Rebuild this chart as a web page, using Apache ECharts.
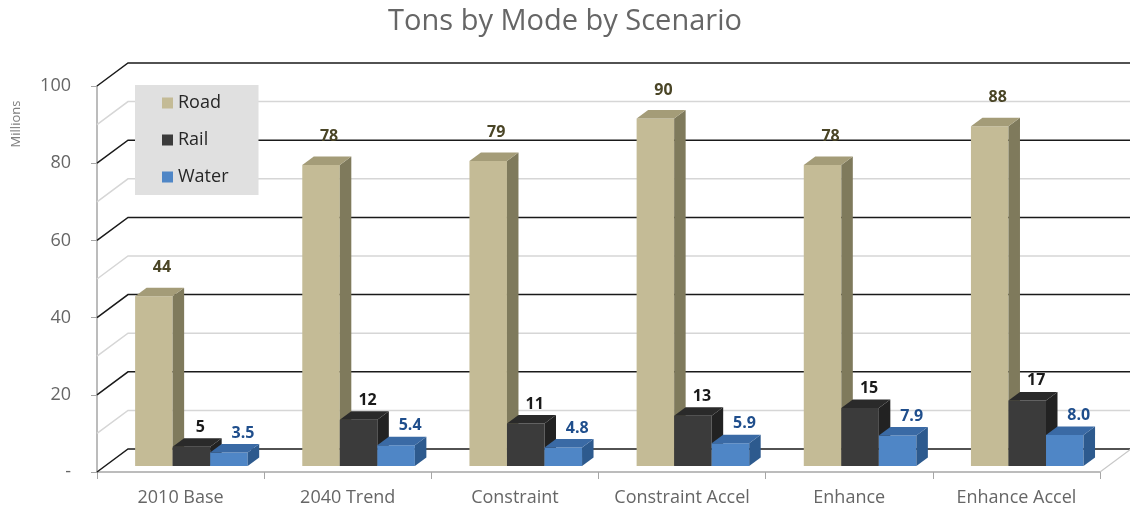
<!DOCTYPE html>
<html>
<head>
<meta charset="utf-8">
<script src="https://cdn.jsdelivr.net/npm/echarts@6/dist/echarts.min.js"></script>
<style>
  html, body { margin: 0; padding: 0; background: #fff; }
  #main { width: 1130px; height: 516px; }
</style>
</head>
<body>
<div id="main"></div>
<script>
var categories = ['2010 Base', '2040 Trend', 'Constraint', 'Constraint Accel', 'Enhance', 'Enhance Accel'];
var road = [44, 78, 79, 90, 78, 88];
var rail = [5, 12, 11, 13, 15, 17];
var water = [3.5, 5.4, 4.8, 5.9, 7.9, 8.0];
var wallTicks = [0, 10, 20, 30, 40, 50, 60, 70, 80, 90, 100];

var FONT = '"Open Sans", sans-serif';
// oblique 3d offsets (px)
var WALL_DX = 31, WALL_DY = -23;   // back wall
var PLANE_DX = 9, PLANE_DY = -6;   // bar front plane
var BAR_DX = 11.5, BAR_DY = -8.5;  // bar depth

function wallRender(params, api) {
  var cs = params.coordSys;
  var v = api.value(1);
  var y = api.coord([0, v])[1];
  var major = v % 20 === 0;
  var children = [{
    type: 'polyline',
    shape: { points: [[cs.x, y], [cs.x + WALL_DX, y + WALL_DY], [cs.x + cs.width + WALL_DX, y + WALL_DY]] },
    style: { stroke: major ? '#1a1a1a' : '#d6d6d6', lineWidth: 1.5, fill: null }
  }];
  if (v === 0) {
    children.push({
      type: 'line',
      shape: { x1: cs.x + cs.width, y1: y, x2: cs.x + cs.width + WALL_DX, y2: y + WALL_DY },
      style: { stroke: '#c8c8c8', lineWidth: 1.2 }
    });
  }
  return { type: 'group', children: children };
}

function barRender(idx, front, side, topC, labelColor, labelDx, labelDy, decimals) {
  return function (params, api) {
    var cat = api.value(0), val = api.value(1);
    var band = api.size([1, 0])[0];
    var base = api.coord([cat, 0]);
    var top = api.coord([cat, val]);
    var w = 0.2245 * band;
    var x0 = base[0] - band / 2 + 0.228 * band + idx * w;
    var yb = base[1] + PLANE_DY;
    var yt = top[1] + PLANE_DY;
    return {
      type: 'group',
      children: [
        { type: 'rect', shape: { x: x0, y: yt, width: w, height: yb - yt }, style: { fill: front } },
        { type: 'polygon', shape: { points: [[x0 + w, yt], [x0 + w + BAR_DX, yt + BAR_DY], [x0 + w + BAR_DX, yb + BAR_DY], [x0 + w, yb]] }, style: { fill: side } },
        { type: 'polygon', shape: { points: [[x0, yt], [x0 + w, yt], [x0 + w + BAR_DX, yt + BAR_DY], [x0 + BAR_DX, yt + BAR_DY]] }, style: { fill: topC } },
        { type: 'text', x: x0 + w / 2 + labelDx, y: yt + BAR_DY - labelDy,
          style: { text: val.toFixed(decimals), fill: labelColor, font: 'bold 16px ' + FONT, align: 'center', verticalAlign: 'middle' } }
      ]
    };
  };
}

function pairs(arr) { return arr.map(function (v, i) { return [i, v]; }); }

var myChart = echarts.init(document.getElementById('main'));

var option = {
  animation: false,
  title: {
    text: 'Tons by Mode by Scenario',
    left: 'center',
    top: 2,
    textStyle: { color: '#666666', fontSize: 29, fontWeight: 'normal', fontFamily: FONT }
  },
  legend: {
    data: ['Road', 'Rail', 'Water'],
    orient: 'vertical',
    left: 135,
    top: 85,
    backgroundColor: '#e0e0e0',
    padding: [9, 30, 9, 27],
    itemGap: 19,
    itemWidth: 11,
    itemHeight: 11,
    icon: 'rect',
    textStyle: { color: '#262626', fontSize: 18, fontFamily: FONT }
  },
  graphic: [{
    type: 'text', x: 16, y: 124, rotation: Math.PI / 2,
    style: { text: 'Millions', fill: '#7f7f7f', font: '13px ' + FONT, align: 'center', verticalAlign: 'middle' }
  }],
  grid: { left: 97, right: 30, top: 86, bottom: 44 },
  xAxis: {
    type: 'category',
    data: categories,
    axisLine: { lineStyle: { color: '#a6a6a6', width: 1.5 } },
    axisTick: { show: true, interval: 0, length: 7, lineStyle: { color: '#a6a6a6' } },
    axisLabel: { color: '#666666', fontSize: 18, margin: 17, interval: 0, fontFamily: FONT }
  },
  yAxis: {
    type: 'value',
    min: 0,
    max: 100,
    interval: 20,
    axisLine: { show: true, lineStyle: { color: '#a6a6a6', width: 1.5 } },
    axisTick: { show: true, length: 6, lineStyle: { color: '#a6a6a6' } },
    splitLine: { show: false },
    axisLabel: {
      color: '#666666', fontSize: 18, margin: 26, fontFamily: FONT,
      formatter: function (v) { return v === 0 ? '-' : v; }
    }
  },
  series: [
    {
      name: 'walls', type: 'custom', z: 1, silent: true,
      data: wallTicks.map(function (v) { return [0, v]; }),
      renderItem: wallRender
    },
    {
      name: 'Road', type: 'custom', z: 2,
      itemStyle: { color: '#c4bb96' },
      data: pairs(road),
      renderItem: barRender(0, '#c4bb96', '#7f7a5c', '#a49c78', '#4a4526', 8, 20, 0)
    },
    {
      name: 'Rail', type: 'custom', z: 3,
      itemStyle: { color: '#3b3b3b' },
      data: pairs(rail),
      renderItem: barRender(1, '#3b3b3b', '#222222', '#2a2a2a', '#1a1a1a', 9, 11, 0)
    },
    {
      name: 'Water', type: 'custom', z: 4,
      itemStyle: { color: '#4f86c6' },
      data: pairs(water),
      renderItem: barRender(2, '#4f86c6', '#2d5a8e', '#3a6aa5', '#1f4e8c', 14, 11, 1)
    }
  ]
};

option && myChart.setOption(option);
</script>
</body>
</html>
